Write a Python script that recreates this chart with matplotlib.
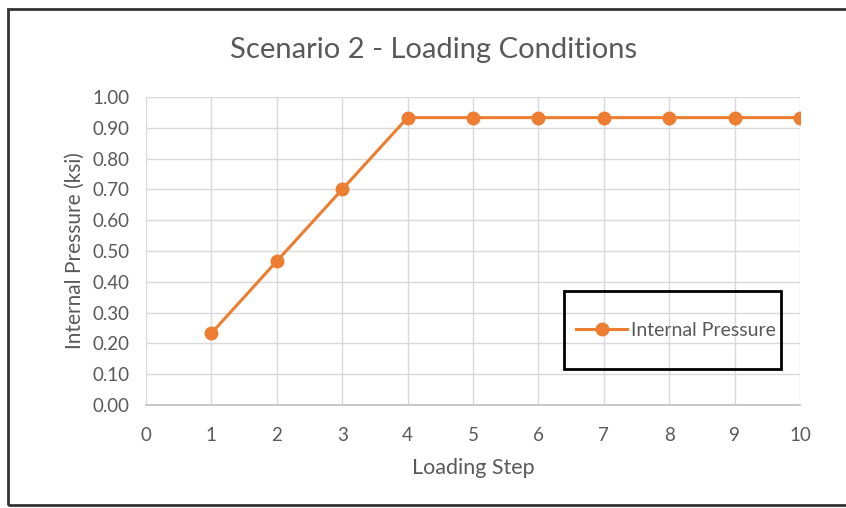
from matplotlib import pyplot as plt
from matplotlib.patches import Rectangle

# data
steps = [1, 2, 3, 4, 5, 6, 7, 8, 9, 10]
pressure = [0.233, 0.467, 0.70, 0.933, 0.933, 0.933, 0.933, 0.933, 0.933, 0.933]
x_ticks = list(range(0, 11))
y_ticks = [i / 10 for i in range(0, 11)]

ORANGE = "#ED7D31"
GREY = "#595959"
plt.rcParams["font.family"] = ["Lato", "DejaVu Sans"]

fig = plt.figure(figsize=(8.46, 5.08), dpi=100)
ax = fig.add_axes([146 / 846, 1 - 405 / 508, 654 / 846, 308 / 508])

ax.plot(steps, pressure, color=ORANGE, linewidth=2.2, marker="o",
        markersize=9, label="Internal Pressure", zorder=3)

ax.set_xlim(0, 10)
ax.set_ylim(0, 1.0)
ax.set_xticks(x_ticks)
ax.set_yticks(y_ticks)
ax.set_yticklabels([f"{v:.2f}" for v in y_ticks])
ax.grid(True, color="#d9d9d9", linewidth=1)
ax.set_axisbelow(True)
for s in ["top", "right", "left"]:
    ax.spines[s].set_visible(False)
ax.spines["bottom"].set_color("#bfbfbf")
ax.spines["bottom"].set_linewidth(1.2)
ax.tick_params(length=0, labelsize=13.5, labelcolor=GREY)
ax.tick_params(axis="x", pad=16)
ax.tick_params(axis="y", pad=12)

ax.set_xlabel("Loading Step", fontsize=15.5, color=GREY, labelpad=10)
ax.set_ylabel("Internal Pressure (ksi)", fontsize=15, color=GREY, labelpad=5)
fig.text(434 / 846, 1 - 50 / 508, "Scenario 2 - Loading Conditions",
         fontsize=21, color=GREY, ha="center", va="center")

# legend box
fig.patches.append(Rectangle((564 / 846, 1 - 369 / 508), 217 / 846, 78 / 508,
                             transform=fig.transFigure, fill=False,
                             edgecolor="black", linewidth=2))
ax.legend(loc="center", bbox_to_anchor=(676 / 846, 1 - 330 / 508),
          bbox_transform=fig.transFigure, frameon=False, fontsize=14,
          labelcolor=GREY, handlelength=2.6, handletextpad=0.2)

# outer border
fig.patches.append(Rectangle((8 / 846, 3 / 508), 850 / 846, 496 / 508,
                             transform=fig.transFigure, fill=False,
                             edgecolor="#333333", linewidth=2))

fig.savefig("out.png", dpi=100)
